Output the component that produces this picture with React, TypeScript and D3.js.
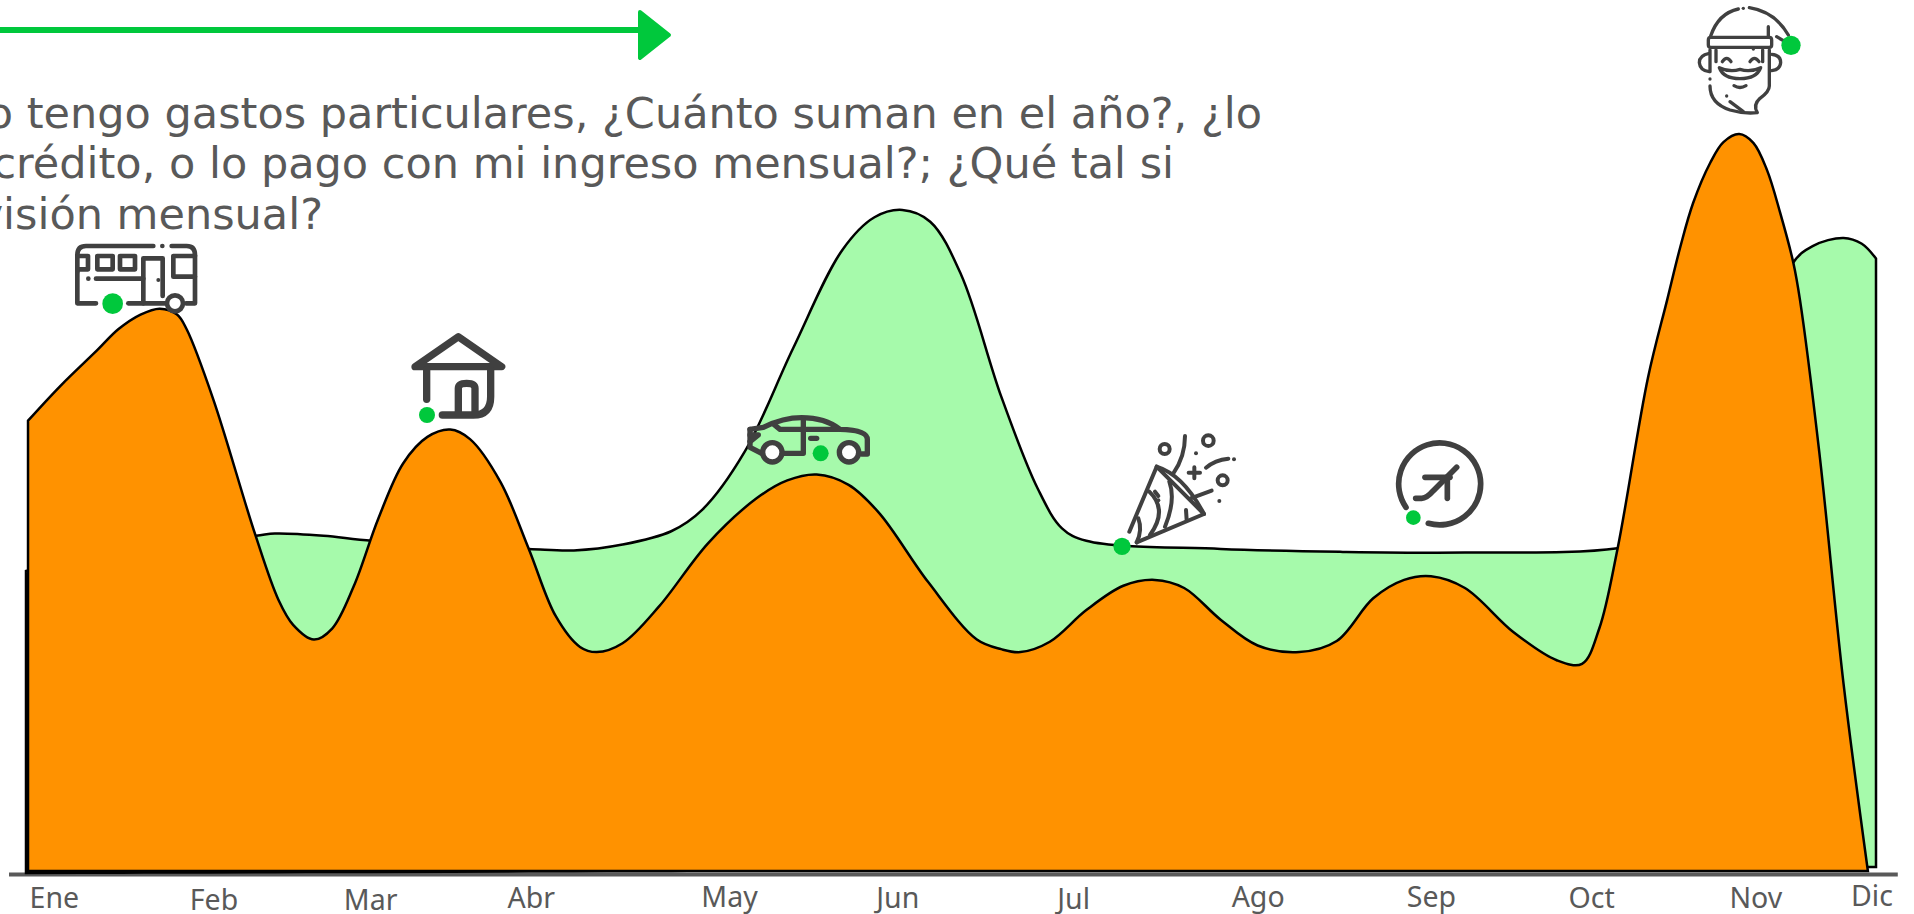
import { useEffect, useRef } from 'react';
import * as d3 from 'd3';

const WIDTH = 1914;
const HEIGHT = 914;

// position along the year (days) and relative amount
const expenseDays = [0.4, 6.9, 14.1, 18.2, 22.6, 26.4, 29.8, 31.7, 37, 45.2, 49.8, 52.7, 56.8, 60.4, 64.7, 69.5, 74.4, 79.2, 83.7, 87.6, 93.6, 99.2, 104.5, 109.3, 112.6, 117.7, 124.9, 134.6, 144.2, 150.2, 156, 162.3, 168.3, 178, 187.6, 192.4, 196.2, 202, 209.2, 216.5, 222.7, 228.5, 235.7, 243, 251.2, 258.6, 265.8, 271.9, 277.2, 283.9, 293.5, 302, 307, 310.4, 314, 320, 323.8, 326.4, 328.9, 332.3, 334.9, 338, 340.8, 343.5, 346.1, 348.7, 350, 353.8, 358.6, 363.4];
const expenseValues = [61.1, 65.9, 70.7, 73.5, 75.5, 76.3, 75.5, 73.5, 63.9, 45.7, 36.8, 33.4, 31.4, 32.9, 38.7, 47.8, 55.3, 58.9, 59.9, 58.6, 52.8, 43.7, 34.6, 30.4, 29.7, 30.9, 35.9, 44.5, 50.6, 53, 53.8, 52.4, 48.6, 39.2, 31.4, 30.1, 29.7, 31.1, 35.4, 38.7, 39.5, 38.4, 34.1, 30.6, 29.7, 31.2, 37, 39.5, 40, 38.4, 32.4, 28.6, 28.1, 32.9, 43.7, 66.9, 77.5, 84.7, 90.6, 96.1, 98.9, 100, 98.8, 95.1, 89.3, 82.5, 77.5, 56.9, 25.4, 0];

const incomeDays = [0, 19, 35.8, 45.4, 49.1, 58.7, 68.3, 99.2, 108.1, 117.7, 127.3, 133.4, 141.8, 151.4, 161.1, 167.4, 172.9, 178.4, 184.5, 192.4, 199.6, 204.4, 209.2, 235.7, 259.8, 283.9, 314, 326, 340, 348.5, 352.5, 358.6, 362.2, 365];
const incomeValues = [40.7, 43.7, 45.3, 45.5, 45.8, 45.5, 44.8, 43.7, 43.5, 44.3, 46.1, 49, 56.9, 71, 84.3, 88.7, 89.7, 88.1, 80.9, 64.4, 51.9, 46.5, 44.8, 43.7, 43.3, 43.2, 43.8, 46, 66, 82.4, 84.8, 85.9, 85.1, 83.1];

const months = ['Ene', 'Feb', 'Mar', 'Abr', 'May', 'Jun', 'Jul', 'Ago', 'Sep', 'Oct', 'Nov', 'Dic'];
const monthDays = [5.5, 37, 67.9, 99.6, 138.7, 171.9, 206.6, 243, 277.2, 308.8, 341.2, 364.1];

const textLines = [
  'Yo tengo gastos particulares, ¿Cuánto suman en el año?, ¿lo',
  'a crédito, o lo pago con mi ingreso mensual?; ¿Qué tal si',
  'provisión mensual?',
];

const GREEN = '#00C83C';
const INK = '#404040';

type Shape = { d?: string; c?: [number, number, number]; dot?: [number, number, number] };

// icons traced at 3x, placed by their top left corner in the page
const icons: { x: number; y: number; sw: number; parts: Shape[]; marker: [number, number, number] }[] = [
  {
    // bus
    x: 60, y: 230, sw: 14, marker: [158, 221, 31],
    parts: [
      { d: 'M52 125 V75 Q52 48 78 48 H280' },
      { d: 'M335 48 H380 Q405 48 405 75 V220 H378' },
      { d: 'M52 125 V220 H108' },
      { d: 'M205 220 H318' },
      { d: 'M250 220 V85 H308 V198' },
      { d: 'M112 78 H158 V118 H112 Z' },
      { d: 'M180 78 H225 V118 H180 Z' },
      { d: 'M52 78 H84 V118 H52' },
      { d: 'M340 78 H405 M340 78 V140 H405' },
      { d: 'M108 146 H250' },
      { dot: [307, 48, 7] },
      { dot: [85, 146, 7] },
      { dot: [295, 150, 6] },
      { c: [345, 220, 24] },
    ],
  },
  {
    // house
    x: 400, y: 320, sw: 22, marker: [81, 285, 24],
    parts: [
      { d: 'M45 140 L175 50 L305 140 Z' },
      { d: 'M80 150 V238' },
      { d: 'M272 150 V230 Q272 285 220 285 H127' },
      { d: 'M175 275 V205 Q175 190 200 190 Q225 190 225 205 V275' },
    ],
  },
  {
    // car
    x: 400, y: 320, sw: 16, marker: [1262, 400, 24],
    parts: [
      { d: 'M1050 328 L1090 322 Q1150 293 1205 293 Q1275 293 1320 328 Q1402 330 1402 358 V402 H1385' },
      { d: 'M1085 400 L1050 382 V328' },
      { d: 'M1150 400 H1210 V298' },
      { d: 'M1120 312 L1140 328 H1315' },
      { d: 'M1232 355 H1250' },
      { d: 'M1050 345 L1075 345 L1050 365' },
      { c: [1117, 397, 29] },
      { c: [1347, 397, 29] },
    ],
  },
  {
    // party popper
    x: 1100, y: 420, sw: 12, marker: [66, 379, 26],
    parts: [
      { d: 'M88 335 L170 140 L312 282 L110 367' },
      { d: 'M170 140 Q250 165 312 282' },
      { d: 'M115 295 Q128 330 110 367' },
      { d: 'M148 215 Q205 270 150 345' },
      { d: 'M165 215 L175 228' },
      { d: 'M208 185 Q228 240 195 320' },
      { d: 'M258 270 L260 300' },
      { d: 'M220 160 Q255 110 255 48' },
      { d: 'M318 143 Q345 120 385 116' },
      { d: 'M272 235 L335 212' },
      { d: 'M283 142 V175 M266 158 H300' },
      { c: [194, 87, 15] },
      { c: [325, 62, 16] },
      { c: [368, 181, 15] },
      { dot: [288, 100, 6] },
      { dot: [402, 118, 6] },
      { dot: [175, 241, 6] },
      { dot: [358, 243, 6] },
    ],
  },
  {
    // plane
    x: 1100, y: 420, sw: 17, marker: [940, 293, 22],
    parts: [
      { d: 'M918 262 A123 123 0 1 1 985 310' },
      { d: 'M1070 142 L1000 212 Q980 235 965 235 H947' },
      { d: 'M975 172 H1050' },
      { d: 'M1042 175 V235' },
    ],
  },
  {
    // santa
    x: 1660, y: 0, sw: 10, marker: [393, 136, 29],
    parts: [
      { d: 'M152 108 Q175 40 235 27' },
      { d: 'M268 23 Q345 35 385 105' },
      { d: 'M325 80 V110' },
      { d: 'M350 110 L370 122' },
      { d: 'M152 112 H328 Q335 112 335 120 V135 Q335 142 328 142 H152 Q145 142 145 135 V120 Q145 112 152 112 Z' },
      { d: 'M150 150 V215' },
      { d: 'M168 150 V185' },
      { d: 'M308 150 V185' },
      { d: 'M328 150 V258 Q328 275 300 295 Q278 315 292 338 Q250 342 210 330 Q150 310 150 258' },
      { d: 'M148 160 Q118 165 118 188 Q120 212 148 215' },
      { d: 'M335 163 Q362 165 362 188 Q360 210 335 212' },
      { d: 'M187 185 Q200 165 213 185' },
      { d: 'M270 185 Q283 165 297 185' },
      { d: 'M178 203 Q190 236 240 236 Q290 236 302 203 Q270 218 240 208 Q210 218 178 203 Z' },
      { d: 'M222 257 Q240 268 258 257' },
      { d: 'M210 305 L250 335' },
      { dot: [250, 25, 5] },
      { dot: [280, 147, 5] },
      { dot: [150, 237, 5] },
      { dot: [200, 288, 5] },
    ],
  },
];

export default function App() {
  const svgRef = useRef<SVGSVGElement>(null);

  useEffect(() => {
    if (!svgRef.current) return;
    const svg = d3.select(svgRef.current);
    svg.selectAll('*').remove();

    const x = d3.scaleLinear().domain([0, 365]).range([26, 1876]);
    const y = d3.scaleLinear().domain([0, 100]).range([871, 134]);
    const greenBase = d3.scaleLinear().domain([0, 365]).range([873, 867]);

    // Axis
    const axisX = x.copy().domain([-3.45, 369.2]).range([x(-3.45), x(369.2)]);
    const axis = svg
      .append('g')
      .attr('transform', 'translate(0,874)')
      .call(
        d3
          .axisBottom(axisX)
          .tickValues(monthDays)
          .tickSize(0)
          .tickFormat((_, i) => months[i])
      );
    axis.select('.domain').attr('stroke', '#595959').attr('stroke-width', 4);
    axis
      .selectAll('text')
      .attr('font-family', '"Noto Sans"')
      .attr('font-size', 28.5)
      .attr('fill', '#595959')
      .attr('dy', 0)
      .attr('y', (_, i) => [34, 36, 36, 34, 33, 34, 35, 33, 33, 34, 34, 32][i]);

    // Areas
    const income = incomeDays.map((d, i) => [d, incomeValues[i]]);
    const expense = expenseDays.map((d, i) => [d, expenseValues[i]]);

    svg
      .append('path')
      .attr(
        'd',
        d3
          .area<number[]>()
          .x((d) => x(d[0]))
          .y0((d) => greenBase(d[0]))
          .y1((d) => y(d[1]))
          .curve(d3.curveCatmullRom.alpha(0.5))(income)
      )
      .attr('fill', '#A6FAAB')
      .attr('stroke', '#000')
      .attr('stroke-width', 2.5);

    svg
      .append('path')
      .attr(
        'd',
        d3
          .area<number[]>()
          .x((d) => x(d[0]))
          .y0(y(0))
          .y1((d) => y(d[1]))
          .curve(d3.curveCatmullRom.alpha(0.5))(expense)
      )
      .attr('fill', '#FF9200')
      .attr('stroke', '#000')
      .attr('stroke-width', 2.5);

    // Arrow
    svg
      .append('line')
      .attr('x1', 0)
      .attr('x2', 638)
      .attr('y1', 30)
      .attr('y2', 30)
      .attr('stroke', GREEN)
      .attr('stroke-width', 6);
    svg
      .append('path')
      .attr('d', 'M640 12 L669 35 L640 58 Z')
      .attr('fill', GREEN)
      .attr('stroke', GREEN)
      .attr('stroke-width', 4)
      .attr('stroke-linejoin', 'round');

    // Text, anchored at the right end because the left side runs off the page
    const lineEnds = [1262, 1174, 323];
    const lineBase = [128, 178, 229];
    svg
      .append('g')
      .selectAll('text')
      .data(textLines)
      .join('text')
      .attr('x', (_, i) => lineEnds[i])
      .attr('y', (_, i) => lineBase[i])
      .attr('text-anchor', 'end')
      .attr('font-family', '"DejaVu Sans"')
      .attr('font-size', 43)
      .attr('fill', '#595959')
      .text((d) => d);

    // Icons
    icons.forEach((icon) => {
      const g = svg
        .append('g')
        .attr('transform', `translate(${icon.x},${icon.y}) scale(${1 / 3})`)
        .attr('fill', 'none')
        .attr('stroke', INK)
        .attr('stroke-width', icon.sw)
        .attr('stroke-linecap', 'round')
        .attr('stroke-linejoin', 'round');
      icon.parts.forEach((p) => {
        if (p.d) g.append('path').attr('d', p.d);
        if (p.c) g.append('circle').attr('cx', p.c[0]).attr('cy', p.c[1]).attr('r', p.c[2]).attr('fill', '#fff');
        if (p.dot)
          g.append('circle')
            .attr('cx', p.dot[0])
            .attr('cy', p.dot[1])
            .attr('r', p.dot[2])
            .attr('fill', INK)
            .attr('stroke', 'none');
      });
      g.append('circle')
        .attr('cx', icon.marker[0])
        .attr('cy', icon.marker[1])
        .attr('r', icon.marker[2])
        .attr('fill', GREEN)
        .attr('stroke', 'none');
    });
  }, []);

  return (
    <svg
      ref={svgRef}
      width={WIDTH}
      height={HEIGHT}
      style={{ position: 'fixed', left: 0, top: 0, background: '#fff' }}
    />
  );
}
